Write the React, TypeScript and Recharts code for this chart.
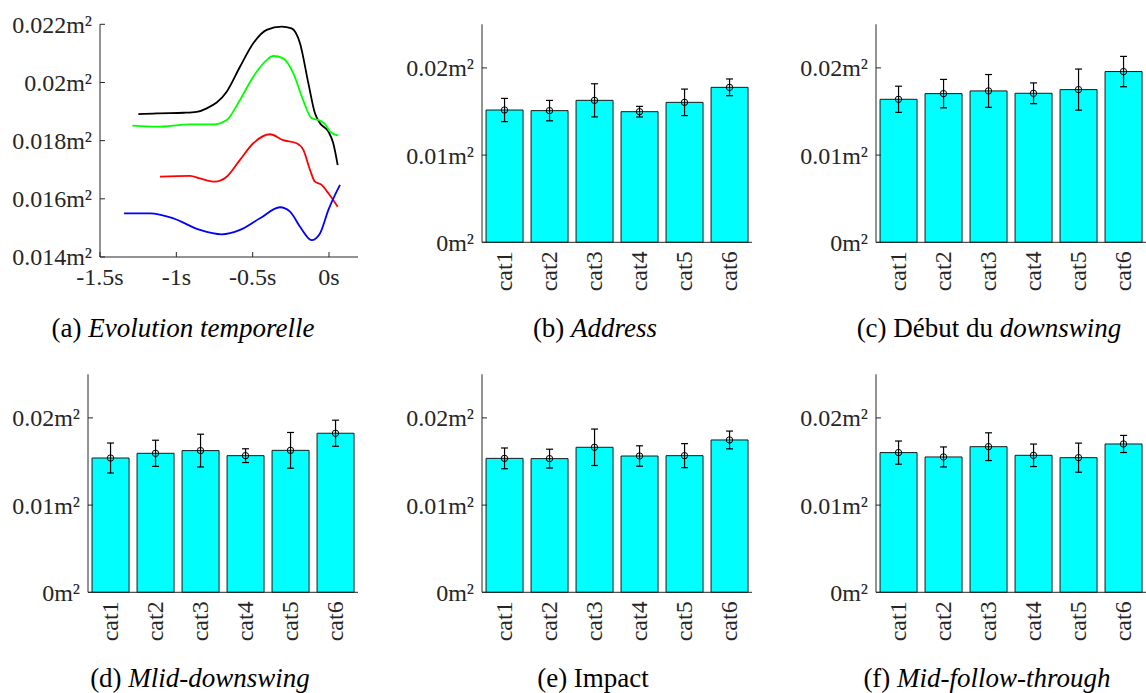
import React from 'react';
import { LineChart, Line, XAxis, YAxis, ComposedChart, Bar, ErrorBar } from 'recharts';

const FONT = 'Liberation Serif';
const AXIS = '#262626';
const TXT = '#262626';

// ---------- Panel (a): temporal evolution ----------
const timeTicks = [-1.5, -1, -0.5, 0];
const areaTicks = [0.014, 0.016, 0.018, 0.02, 0.022];

const blackT = [-1.249, -1.129, -0.95, -0.867, -0.801, -0.67, -0.583, -0.496, -0.408, -0.31, -0.245, -0.19, -0.135, -0.092, -0.059, -0.004, 0.028, 0.057];
const blackV = [0.01891, 0.01894, 0.01896, 0.01899, 0.01911, 0.01968, 0.02054, 0.02135, 0.02181, 0.02192, 0.02186, 0.02135, 0.01997, 0.01894, 0.0186, 0.01831, 0.01791, 0.01716];

const greenT = [-1.288, -1.129, -0.91, -0.758, -0.67, -0.583, -0.496, -0.408, -0.365, -0.3, -0.234, -0.17, -0.114, -0.059, -0.026, 0.007, 0.061];
const greenV = [0.01852, 0.01848, 0.01856, 0.01856, 0.01871, 0.0194, 0.0202, 0.02077, 0.02091, 0.02083, 0.02032, 0.0194, 0.01877, 0.01869, 0.01857, 0.01831, 0.01817];

const redT = [-1.107, -0.91, -0.845, -0.747, -0.67, -0.583, -0.496, -0.387, -0.3, -0.212, -0.168, -0.124, -0.092, -0.048, -0.004, 0.057];
const redV = [0.01676, 0.01679, 0.0167, 0.01659, 0.01676, 0.01734, 0.01791, 0.01822, 0.01802, 0.01791, 0.01768, 0.01699, 0.01659, 0.01648, 0.01619, 0.01573];

const blueT = [-1.343, -1.172, -1.02, -0.845, -0.703, -0.583, -0.452, -0.321, -0.255, -0.19, -0.114, -0.059, -0.004, 0.072];
const blueV = [0.0155, 0.0155, 0.01533, 0.01493, 0.01478, 0.01493, 0.01533, 0.01571, 0.01556, 0.01504, 0.01458, 0.01481, 0.01562, 0.01648];

// ---------- Bar panels ----------
const categories = ['cat1', 'cat2', 'cat3', 'cat4', 'cat5', 'cat6'];
const barTicks = [0, 0.01, 0.02];

const addressMean = [0.01517, 0.0151, 0.01628, 0.01498, 0.01605, 0.01777];
const addressSd = [0.00133, 0.00117, 0.0019, 0.00061, 0.00152, 0.00096];

const debutMean = [0.0164, 0.01705, 0.01736, 0.01709, 0.01751, 0.01958];
const debutSd = [0.0015, 0.00163, 0.00188, 0.00119, 0.00236, 0.00174];

const midDownMean = [0.0154, 0.01594, 0.01625, 0.01567, 0.01628, 0.01824];
const midDownSd = [0.00172, 0.0015, 0.00188, 0.00079, 0.00205, 0.0015];

const impactMean = [0.01536, 0.01533, 0.01663, 0.01563, 0.01567, 0.01747];
const impactSd = [0.00119, 0.00108, 0.00209, 0.00117, 0.00138, 0.00102];

const followMean = [0.01602, 0.01552, 0.0167, 0.01571, 0.01544, 0.01701];
const followSd = [0.00133, 0.00115, 0.00159, 0.00129, 0.00167, 0.00098];

const fmtM = (v: number) => `${parseFloat(Number(v).toFixed(4))}m²`;
const fmtS = (v: number) => `${v}s`;

const toSeries = (t: number[], v: number[]) => t.map((x, i) => ({ t: x, v: v[i] }));

const CatTick = (props: any) => {
  const { x, y, payload } = props;
  return (
    <text
      x={x}
      y={y}
      transform={`rotate(-90 ${x} ${y})`}
      textAnchor="end"
      dominantBaseline="central"
      fill={TXT}
      fontSize={24}
      style={{ fontFamily: FONT }}
    >
      {payload.value}
    </text>
  );
};

const YTick = (props: any) => {
  const { x, y, payload, tickFormatter } = props;
  return (
    <text x={x} y={y} dy="0.35em" textAnchor="end" fill={TXT} fontSize={24} style={{ fontFamily: FONT }}>
      {tickFormatter ? tickFormatter(payload.value) : payload.value}
    </text>
  );
};

const XTick = (props: any) => {
  const { x, y, payload, tickFormatter } = props;
  return (
    <text x={x} y={y} dy="0.71em" textAnchor="middle" fill={TXT} fontSize={24} style={{ fontFamily: FONT }}>
      {tickFormatter ? tickFormatter(payload.value) : payload.value}
    </text>
  );
};

function EvolutionPanel() {
  return (
    <div style={{ position: 'absolute', left: 0, top: 0 }}>
      <LineChart width={370} height={300} margin={{ top: 24.3, right: 12, left: 0, bottom: 13 }}>
        <XAxis
          type="number"
          dataKey="t"
          domain={[-1.5, 0.19]}
          ticks={timeTicks}
          allowDataOverflow
          height={30}
          tickSize={-5}
          tickMargin={16}
          tickFormatter={fmtS}
          tick={<XTick />}
          axisLine={{ stroke: AXIS }}
          tickLine={{ stroke: AXIS }}
        />
        <YAxis
          type="number"
          domain={[0.014, 0.022]}
          ticks={areaTicks}
          allowDataOverflow
          width={100}
          tickSize={-5}
          tickMargin={13}
          tickFormatter={fmtM}
          tick={<YTick />}
          axisLine={{ stroke: AXIS }}
          tickLine={{ stroke: AXIS }}
        />
        <Line data={toSeries(blackT, blackV)} dataKey="v" type="monotone" stroke="#000000" strokeWidth={1.8} dot={false} isAnimationActive={false} />
        <Line data={toSeries(greenT, greenV)} dataKey="v" type="monotone" stroke="#00ff00" strokeWidth={1.8} dot={false} isAnimationActive={false} />
        <Line data={toSeries(redT, redV)} dataKey="v" type="monotone" stroke="#ff0000" strokeWidth={1.8} dot={false} isAnimationActive={false} />
        <Line data={toSeries(blueT, blueV)} dataKey="v" type="monotone" stroke="#0000ff" strokeWidth={1.8} dot={false} isAnimationActive={false} />
      </LineChart>
    </div>
  );
}

function BarPanel({ axisX, top, means, sds }: { axisX: number; top: number; means: number[]; sds: number[] }) {
  const data = categories.map((c, i) => ({ cat: c, mean: means[i], sd: sds[i] }));
  return (
    <div style={{ position: 'absolute', left: axisX - 100, top }}>
      <ComposedChart
        width={370}
        height={310}
        data={data}
        margin={{ top: 24.3, right: 0, left: 0, bottom: 7.7 }}
        barCategoryGap="9%"
      >
        <XAxis
          dataKey="cat"
          type="category"
          height={60}
          interval={0}
          tickSize={0}
          tickMargin={9}
          tickLine={false}
          tick={<CatTick />}
          axisLine={{ stroke: AXIS }}
        />
        <YAxis
          type="number"
          domain={[0, 0.025]}
          ticks={barTicks}
          width={100}
          tickSize={-5}
          tickMargin={13}
          tickFormatter={fmtM}
          tick={<YTick />}
          axisLine={{ stroke: AXIS }}
          tickLine={{ stroke: AXIS }}
        />
        <Bar dataKey="mean" fill="#00ffff" stroke="#1a1a1a" strokeWidth={1} isAnimationActive={false}>
          <ErrorBar dataKey="sd" width={3.5} stroke="#000" strokeWidth={1.2} direction="y" />
        </Bar>
        <Line
          dataKey="mean"
          stroke="none"
          dot={{ r: 3.2, fill: 'none', stroke: '#000', strokeWidth: 1 }}
          activeDot={false}
          isAnimationActive={false}
        />
      </ComposedChart>
    </div>
  );
}

const captionStyle = (cx: number, cy: number): React.CSSProperties => ({
  position: 'absolute',
  left: cx - 250,
  top: cy - 16,
  width: 500,
  textAlign: 'center',
  fontFamily: FONT,
  fontSize: 27,
  lineHeight: '32px',
  color: '#000',
  whiteSpace: 'nowrap',
});

export default function App() {
  return (
    <div style={{ position: 'absolute', left: 0, top: 0, width: 1146, height: 693, background: '#fff', overflow: 'hidden', fontFamily: FONT }}>
      <EvolutionPanel />
      <BarPanel axisX={481.7} top={0} means={addressMean} sds={addressSd} />
      <BarPanel axisX={875.7} top={0} means={debutMean} sds={debutSd} />
      <BarPanel axisX={87.7} top={350} means={midDownMean} sds={midDownSd} />
      <BarPanel axisX={481.7} top={350} means={impactMean} sds={impactSd} />
      <BarPanel axisX={875.7} top={350} means={followMean} sds={followSd} />

      <div style={captionStyle(183, 328)}>(a) <i>Evolution temporelle</i></div>
      <div style={captionStyle(595, 328)}>(b) <i>Address</i></div>
      <div style={captionStyle(989, 328)}>(c) Début du <i>downswing</i></div>
      <div style={captionStyle(200, 678)}>(d) <i>Mlid-downswing</i></div>
      <div style={captionStyle(593, 678)}>(e) Impact</div>
      <div style={captionStyle(987, 678)}>(f) <i>Mid-follow-through</i></div>
    </div>
  );
}
